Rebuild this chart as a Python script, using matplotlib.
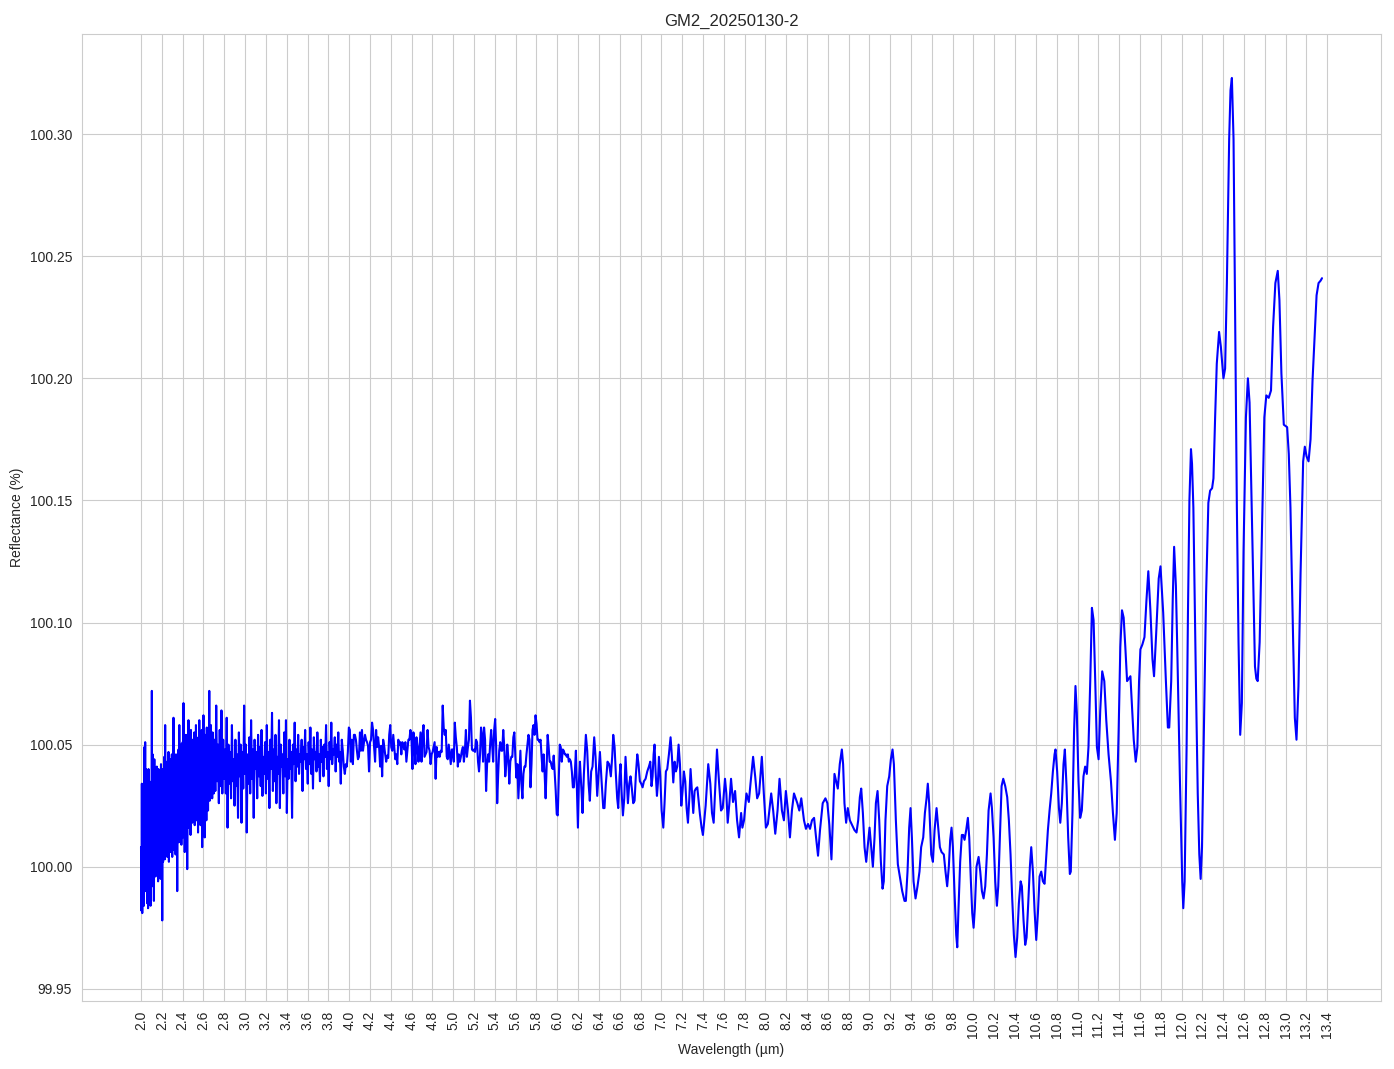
import matplotlib.pyplot as plt
import matplotlib.ticker as mticker
import numpy as np
import seaborn as sns

# Reflectance spectrum GM2_20250130-2.

# 2.0 - 2.7 um: very dense noisy part (evenly sampled between the two ends)
short_wl_range = (2.000, 2.700)
short_refl = [
    100.008, 99.982, 100.034, 99.981, 100.030, 99.986, 100.033, 99.984,
    100.049, 99.995, 100.051, 99.990, 100.040, 99.993, 100.028, 99.985,
    100.033, 99.983, 100.040, 99.998, 100.035, 99.989, 100.026, 99.984, 100.030,
    99.995, 100.072, 99.992, 100.046,
    100.005, 100.040, 99.986, 100.044, 100.002, 100.030, 99.996, 100.035, 100.004,
    100.041, 99.998, 100.036, 99.994, 100.040, 100.006, 100.033, 100.000,
    100.038, 99.995, 100.042, 100.004, 100.035, 99.978, 100.040, 100.002, 100.036, 100.008,
    100.045, 100.003, 100.058, 100.006, 100.043, 100.010, 100.039, 100.004,
    100.042, 100.012, 100.047, 100.002, 100.038, 100.008, 100.044, 100.006, 100.040,
    100.010, 100.046, 100.004, 100.041, 100.012, 100.061, 100.007, 100.044, 100.014,
    100.040, 100.005, 100.046, 100.011, 100.043, 99.990, 100.038, 100.015, 100.048,
    100.010, 100.058, 100.013, 100.045, 100.018, 100.050, 100.009, 100.047, 100.016,
    100.051, 100.012, 100.067, 100.020, 100.046, 100.006, 100.049, 100.017, 100.054,
    100.014, 100.048, 99.999, 100.045, 100.020, 100.060, 100.016, 100.050, 100.022,
    100.047, 100.013, 100.056, 100.024, 100.048, 100.018, 100.052, 100.020, 100.046,
    100.023, 100.055, 100.017, 100.049, 100.026, 100.058, 100.019, 100.050, 100.024,
    100.047, 100.014, 100.053, 100.026, 100.060, 100.022, 100.049, 100.017, 100.052,
    100.025, 100.056, 100.008, 100.050, 100.028, 100.062, 100.021, 100.048, 100.012,
    100.054, 100.026, 100.050, 100.019, 100.057, 100.029, 100.051, 100.023, 100.055,
    100.030, 100.072, 100.027, 100.052, 100.033, 100.058, 100.030, 100.050, 100.028,
    100.055, 100.034, 100.049, 100.030,
]

# 2.7 - 3.9 um
dense_wl_range = (2.706, 3.904)
dense_refl = [
    100.052, 100.031, 100.066, 100.035, 100.050, 100.026, 100.056, 100.033, 100.064, 100.030, 100.052, 100.036,
    100.048, 100.030, 100.061, 100.016, 100.050, 100.034, 100.047, 100.028, 100.058, 100.035, 100.044, 100.025,
    100.052, 100.033, 100.046, 100.020, 100.055, 100.037, 100.050, 100.018, 100.047, 100.032, 100.066, 100.038,
    100.050, 100.014, 100.046, 100.034, 100.053, 100.030, 100.060, 100.036, 100.048, 100.020, 100.052, 100.040,
    100.047, 100.028, 100.054, 100.037, 100.049, 100.033, 100.056, 100.029, 100.045, 100.038, 100.051, 100.030,
    100.058, 100.036, 100.047, 100.024, 100.052, 100.040, 100.063, 100.031, 100.048, 100.035, 100.054, 100.026,
    100.045, 100.038, 100.060, 100.024, 100.050, 100.041, 100.046, 100.030, 100.055, 100.037, 100.060, 100.022,
    100.044, 100.036, 100.052, 100.040, 100.047, 100.020, 100.050, 100.042, 100.059, 100.035, 100.048, 100.041,
    100.054, 100.038, 100.046, 100.043, 100.052, 100.031, 100.049, 100.044, 100.056, 100.040, 100.046, 100.034,
    100.051, 100.042, 100.057, 100.038, 100.048, 100.032, 100.053, 100.044, 100.047, 100.039, 100.055, 100.041,
    100.046, 100.035, 100.052, 100.043, 100.049, 100.037, 100.050, 100.045, 100.058, 100.040, 100.047, 100.033,
    100.051, 100.044, 100.059, 100.042, 100.048, 100.046, 100.053, 100.039, 100.050, 100.045, 100.055, 100.043,
]

# 3.9 - 6.2 um
noisy_wl_range = (3.910, 6.218)
noisy_refl = [
    100.047, 100.034, 100.052, 100.0475, 100.041, 100.038, 100.042, 100.041, 100.047, 100.057,
    100.056, 100.043, 100.052, 100.042, 100.054, 100.054, 100.052, 100.0475, 100.044, 100.045,
    100.055, 100.0475, 100.056, 100.0475, 100.051, 100.054, 100.052, 100.051, 100.0495, 100.039,
    100.051, 100.052, 100.059, 100.056, 100.049, 100.043, 100.056, 100.049, 100.053, 100.049,
    100.041, 100.0495, 100.037, 100.052, 100.0495, 100.046, 100.043, 100.0455, 100.0445, 100.054,
    100.058, 100.049, 100.0475, 100.054, 100.049, 100.044, 100.046, 100.042, 100.052, 100.050,
    100.051, 100.046, 100.051, 100.050, 100.048, 100.051, 100.043, 100.0475, 100.052, 100.052,
    100.056, 100.053, 100.040, 100.055, 100.049, 100.042, 100.053, 100.049, 100.043, 100.049,
    100.055, 100.043, 100.054, 100.058, 100.045, 100.046, 100.047, 100.056, 100.049, 100.0475,
    100.042, 100.046, 100.047, 100.049, 100.051, 100.036, 100.049, 100.045, 100.047, 100.045,
    100.0475, 100.047, 100.066, 100.057, 100.054, 100.056, 100.045, 100.044, 100.050, 100.046,
    100.042, 100.048, 100.048, 100.043, 100.059, 100.053, 100.049, 100.041, 100.046, 100.043,
    100.045, 100.0475, 100.049, 100.043, 100.0475, 100.056, 100.045, 100.049, 100.052, 100.068,
    100.061, 100.048, 100.0475, 100.048, 100.047, 100.052, 100.051, 100.043, 100.039, 100.046,
    100.057, 100.054, 100.043, 100.057, 100.052, 100.031, 100.042, 100.046, 100.043, 100.050,
    100.056, 100.050, 100.043, 100.056, 100.0605, 100.049, 100.026, 100.038, 100.0475, 100.051,
    100.0475, 100.0475, 100.056, 100.049, 100.037, 100.042, 100.050, 100.045, 100.034, 100.043,
    100.045, 100.045, 100.053, 100.055, 100.045, 100.0365, 100.042, 100.028, 100.038, 100.0475,
    100.034, 100.028, 100.038, 100.041, 100.041, 100.046, 100.050, 100.054, 100.052, 100.0325,
    100.042, 100.056, 100.058, 100.054, 100.062, 100.0585, 100.052, 100.052, 100.051, 100.052,
    100.045, 100.039, 100.046, 100.038, 100.028, 100.041, 100.054, 100.049, 100.043, 100.043,
    100.041, 100.040, 100.0455, 100.038, 100.031, 100.0215, 100.021, 100.035, 100.050, 100.049,
    100.043, 100.048, 100.0475, 100.046, 100.046, 100.045, 100.046, 100.043, 100.044, 100.043,
    100.039, 100.0325, 100.0325, 100.039, 100.0475, 100.031, 100.016, 100.035, 100.043,
]

# 6.2 - 8.6 um: smoother oscillations
mid_wl = [
    6.233, 6.243, 6.256, 6.275, 6.288, 6.301, 6.313, 6.326, 6.339, 6.355, 6.368, 6.384,
    6.397, 6.410, 6.426, 6.442, 6.454, 6.467, 6.483, 6.499, 6.515, 6.528, 6.538, 6.551,
    6.563, 6.576, 6.586, 6.599, 6.608, 6.618, 6.631, 6.644, 6.656, 6.666, 6.679, 6.692,
    6.704, 6.717, 6.730, 6.743, 6.756, 6.769, 6.781, 6.794, 6.807, 6.820, 6.833, 6.849,
    6.865, 6.881, 6.894, 6.906, 6.916, 6.926, 6.935, 6.945, 6.958, 6.967, 6.977, 6.990,
    7.003, 7.019, 7.031, 7.044, 7.057, 7.073, 7.089, 7.102, 7.115, 7.128, 7.140, 7.153,
    7.166, 7.179, 7.192, 7.204, 7.217, 7.230, 7.243, 7.256, 7.269, 7.281, 7.294, 7.307,
    7.320, 7.333, 7.346, 7.358, 7.371, 7.387,
    7.400, 7.426, 7.451, 7.471, 7.487, 7.503, 7.519, 7.535, 7.554, 7.574, 7.590, 7.612,
    7.625, 7.638, 7.654, 7.670, 7.689, 7.709, 7.728, 7.747, 7.767, 7.779, 7.795, 7.818,
    7.841, 7.857, 7.882, 7.902, 7.921, 7.940, 7.966, 7.985, 8.005, 8.024, 8.056, 8.075,
    8.095, 8.117, 8.136, 8.159, 8.178, 8.197, 8.217, 8.236, 8.255, 8.275, 8.307, 8.326,
    8.345, 8.371, 8.390, 8.410, 8.429, 8.448, 8.468, 8.487, 8.506, 8.525, 8.551, 8.577,
    8.596, 8.615, 8.635,
]
mid_refl = [
    100.031, 100.022, 100.038, 100.054, 100.0475, 100.034, 100.027, 100.039, 100.041, 100.053, 100.045, 100.029,
    100.038, 100.047, 100.035, 100.024, 100.024, 100.034, 100.043, 100.042, 100.037, 100.045, 100.054, 100.049,
    100.038, 100.028, 100.024, 100.037, 100.042, 100.031, 100.021, 100.028, 100.045, 100.037, 100.026, 100.034,
    100.037, 100.032, 100.026, 100.027, 100.038, 100.046, 100.042, 100.035, 100.034, 100.0325, 100.035, 100.036,
    100.039, 100.041, 100.043, 100.033, 100.037, 100.046, 100.050, 100.039, 100.029, 100.034, 100.045, 100.037,
    100.023, 100.016, 100.026, 100.039, 100.040, 100.046, 100.053, 100.045, 100.0345, 100.043, 100.039, 100.041,
    100.050, 100.042, 100.025, 100.031, 100.039, 100.035, 100.024, 100.018, 100.028, 100.040, 100.031, 100.022,
    100.031, 100.032, 100.0325, 100.027, 100.0215, 100.016,
    100.013, 100.025, 100.042, 100.034, 100.022, 100.018, 100.033, 100.048, 100.035, 100.023, 100.024, 100.036,
    100.030, 100.018, 100.026, 100.036, 100.0265, 100.031, 100.019, 100.012, 100.022, 100.016, 100.019, 100.030,
    100.0265, 100.034, 100.045, 100.037, 100.028, 100.030, 100.045, 100.030, 100.016, 100.0175, 100.030, 100.023,
    100.0135, 100.023, 100.036, 100.023, 100.019, 100.031, 100.023, 100.012, 100.023, 100.030, 100.026, 100.023,
    100.028, 100.019, 100.0155, 100.0175, 100.0155, 100.019, 100.020, 100.012, 100.0045, 100.015, 100.026, 100.028,
    100.026, 100.017, 100.003,
]

# 8.6 - 13.35 um: long-wave oscillations
long_wl = [
    8.648, 8.664, 8.680, 8.696, 8.715, 8.735, 8.747, 8.760, 8.776, 8.792, 8.812, 8.834,
    8.856, 8.876, 8.892, 8.908, 8.921, 8.937, 8.953, 8.969, 8.985, 9.001, 9.017, 9.033,
    9.049, 9.062, 9.078, 9.094, 9.110, 9.126, 9.138, 9.154, 9.171, 9.190, 9.206, 9.222,
    9.235, 9.254, 9.273, 9.292, 9.315, 9.337, 9.350, 9.366, 9.382, 9.395, 9.408, 9.424,
    9.443, 9.462, 9.481, 9.497, 9.517, 9.533, 9.549, 9.561, 9.574, 9.594, 9.610, 9.626,
    9.645, 9.661, 9.677, 9.693, 9.715, 9.731, 9.747, 9.763, 9.776, 9.789, 9.802, 9.818,
    9.834, 9.844, 9.856, 9.872, 9.888, 9.901, 9.914, 9.930, 9.946, 9.959, 9.975, 9.988,
    10.001, 10.013, 10.029, 10.049, 10.065, 10.081, 10.097, 10.113, 10.129, 10.145, 10.164, 10.177,
    10.193, 10.209, 10.225, 10.238, 10.254, 10.270, 10.286, 10.305, 10.324, 10.340, 10.356, 10.372,
    10.388, 10.404, 10.420, 10.436, 10.453, 10.465, 10.481, 10.497, 10.510, 10.526, 10.542, 10.555,
    10.571, 10.587, 10.603, 10.619, 10.635, 10.651, 10.667, 10.683, 10.699, 10.715, 10.731, 10.747,
    10.763, 10.779, 10.788, 10.804, 10.821, 10.834, 10.849, 10.865, 10.878, 10.894, 10.910, 10.926,
    10.935, 10.951, 10.967, 10.980, 10.993, 11.009, 11.025, 11.041, 11.057, 11.073, 11.089, 11.105,
    11.122, 11.138, 11.154, 11.170, 11.186, 11.202, 11.218, 11.237, 11.257, 11.276, 11.298, 11.321,
    11.340, 11.359, 11.376, 11.395, 11.411, 11.427, 11.443, 11.459, 11.476, 11.492, 11.508, 11.524,
    11.540, 11.559, 11.575, 11.591, 11.604, 11.623, 11.643, 11.662, 11.680, 11.700, 11.720, 11.735,
    11.755, 11.780, 11.797, 11.823, 11.849, 11.868, 11.881, 11.900, 11.915, 11.928, 11.945, 11.958,
    11.984, 12.006, 12.016, 12.029, 12.048, 12.061, 12.075, 12.090, 12.100, 12.113, 12.138, 12.155,
    12.170, 12.183, 12.196, 12.209, 12.235, 12.257, 12.274, 12.293, 12.306, 12.322, 12.338, 12.360,
    12.377, 12.402, 12.418, 12.435, 12.457, 12.470, 12.483, 12.499, 12.515, 12.531, 12.547, 12.563,
    12.579, 12.595, 12.618, 12.637, 12.653, 12.669, 12.686, 12.705, 12.718, 12.731, 12.750, 12.772,
    12.795, 12.814, 12.837, 12.859, 12.879, 12.901, 12.924, 12.940, 12.959, 12.982, 13.014, 13.030,
    13.046, 13.072, 13.088, 13.104, 13.123, 13.143, 13.168, 13.184, 13.201, 13.220, 13.239, 13.258,
    13.278, 13.297, 13.316, 13.336, 13.349,
]
long_refl = [
    100.019, 100.038, 100.035, 100.032, 100.042, 100.048, 100.042, 100.026, 100.018, 100.024, 100.019, 100.017,
    100.015, 100.014, 100.019, 100.0285, 100.032, 100.022, 100.008, 100.002, 100.009, 100.016, 100.008, 100.000,
    100.012, 100.026, 100.031, 100.019, 100.002, 99.991, 99.994, 100.019, 100.033, 100.037, 100.044, 100.048,
    100.042, 100.019, 100.001, 99.996, 99.990, 99.986, 99.986, 99.998, 100.016, 100.024, 100.012, 99.994,
    99.987, 99.992, 99.998, 100.008, 100.012, 100.022, 100.028, 100.034, 100.026, 100.005, 100.002, 100.015,
    100.024, 100.016, 100.008, 100.006, 100.005, 99.998, 99.992, 100.000, 100.011, 100.016, 100.008, 99.989,
    99.972, 99.967, 99.983, 100.002, 100.013, 100.013, 100.011, 100.015, 100.020, 100.012, 99.994, 99.981,
    99.975, 99.983, 100.000, 100.004, 99.998, 99.990, 99.987, 99.992, 100.005, 100.023, 100.030, 100.024,
    100.012, 99.994, 99.984, 99.992, 100.012, 100.033, 100.036, 100.033, 100.0285, 100.019, 100.005, 99.987,
    99.972, 99.963, 99.971, 99.985, 99.994, 99.992, 99.978, 99.968, 99.971, 99.985, 100.000, 100.008,
    99.998, 99.982, 99.970, 99.981, 99.996, 99.998, 99.994, 99.993, 100.004, 100.015, 100.023, 100.030,
    100.039, 100.046, 100.048, 100.039, 100.024, 100.018, 100.026, 100.042, 100.048, 100.033, 100.012, 99.997,
    99.998, 100.022, 100.056, 100.074, 100.063, 100.035, 100.020, 100.023, 100.037, 100.041, 100.038, 100.049,
    100.076, 100.106, 100.101, 100.076, 100.049, 100.044, 100.064, 100.080, 100.076, 100.060, 100.046, 100.035,
    100.022, 100.011, 100.022, 100.056, 100.090, 100.105, 100.102, 100.090, 100.076, 100.077, 100.078, 100.065,
    100.052, 100.043, 100.049, 100.076, 100.089, 100.091, 100.094, 100.109, 100.121, 100.105, 100.085, 100.078,
    100.095, 100.118, 100.123, 100.104, 100.076, 100.057, 100.057, 100.076, 100.110, 100.131, 100.115, 100.090,
    100.035, 99.994, 99.983, 99.994, 100.049, 100.104, 100.150, 100.171, 100.165, 100.147, 100.074, 100.030,
    100.005, 99.995, 100.008, 100.043, 100.111, 100.149, 100.154, 100.155, 100.159, 100.184, 100.206, 100.219,
    100.213, 100.200, 100.204, 100.239, 100.298, 100.318, 100.323, 100.298, 100.221, 100.147, 100.092, 100.054,
    100.067, 100.129, 100.184, 100.200, 100.190, 100.157, 100.120, 100.082, 100.077, 100.076, 100.092, 100.138,
    100.184, 100.193, 100.192, 100.195, 100.221, 100.239, 100.244, 100.232, 100.202, 100.181, 100.180, 100.169,
    100.147, 100.092, 100.061, 100.052, 100.074, 100.120, 100.166, 100.172, 100.168, 100.166, 100.175, 100.199,
    100.217, 100.234, 100.239, 100.240, 100.241,
]

x_tick_values = np.round(np.arange(2.0, 13.41, 0.2), 1)

# Put the pieces together into one spectrum
wavelength = np.concatenate([
    np.linspace(*short_wl_range, len(short_refl)),
    np.linspace(*dense_wl_range, len(dense_refl)),
    np.linspace(*noisy_wl_range, len(noisy_refl)),
    mid_wl,
    long_wl,
])
reflectance = np.concatenate([short_refl, dense_refl, noisy_refl, mid_refl, long_refl])

sns.set_style("whitegrid")
# Arial-like text, set after seaborn so it is not overwritten
plt.rcParams['font.family'] = ['Liberation Sans', 'DejaVu Sans']

fig, ax = plt.subplots(figsize=(13.94, 10.69), dpi=100)
fig.subplots_adjust(left=0.0588, right=0.9907, top=0.9682, bottom=0.0636)

ax.plot(wavelength, reflectance, color="blue", linewidth=1.5)

ax.set_xticks(x_tick_values)
ax.set_xticklabels(["{:.1f}".format(v) for v in x_tick_values], rotation=90)
ax.yaxis.set_major_formatter(mticker.FormatStrFormatter("%.2f"))

ax.set_title("GM2_20250130-2")
ax.set_xlabel("Wavelength (µm)")
ax.set_ylabel("Reflectance (%)")

fig.savefig("out.png", dpi=100)
